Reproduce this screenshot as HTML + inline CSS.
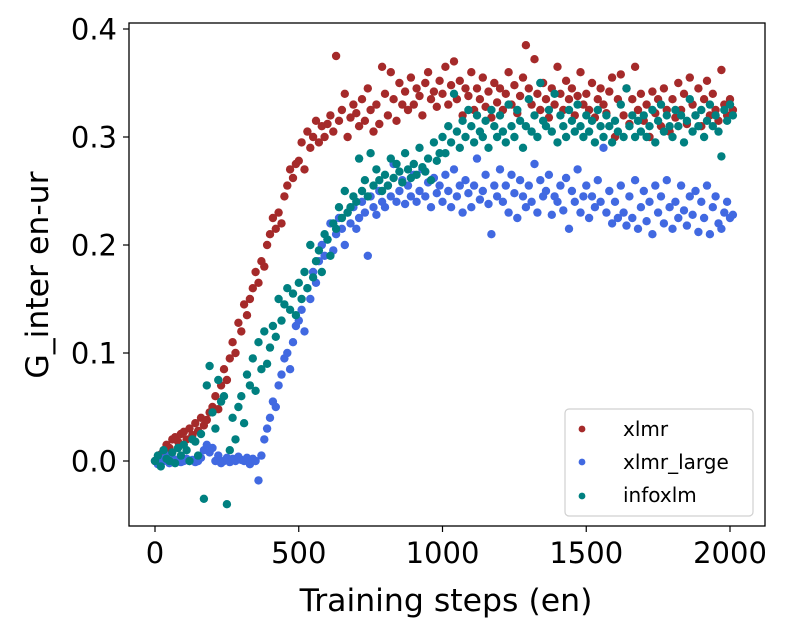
<!DOCTYPE html>
<html><head><meta charset="utf-8"><style>
html,body{margin:0;padding:0;background:#fff;}
svg{display:block;font-family:"DejaVu Sans","Liberation Sans",sans-serif;}
</style></head><body>
<svg id="chart" width="789" height="635" viewBox="0 0 789 635" xmlns="http://www.w3.org/2000/svg">
<rect x="0" y="0" width="789" height="635" fill="#fff"/>
<g id="points"></g>
<g id="axes"></g>
<text x="446" y="611" font-size="31.5" text-anchor="middle" fill="#000">Training steps (en)</text>
<text transform="translate(48,275) rotate(-90)" font-size="31.5" text-anchor="middle" fill="#000">G_inter en-ur</text>
<g>
<rect x="565" y="409" width="188" height="107" rx="4" fill="#fff" fill-opacity="0.8" stroke="#d0d0d0" stroke-width="1.2"/>
<circle cx="582" cy="429" r="3.4" fill="#a52a2a"/>
<text x="623" y="436" font-size="20">xlmr</text>
<circle cx="582" cy="462" r="3.4" fill="#4169e1"/>
<text x="623" y="469" font-size="20">xlmr_large</text>
<circle cx="582" cy="496" r="3.4" fill="#008080"/>
<text x="623" y="502" font-size="20">infoxlm</text>
</g>
</svg>
<script>
const stepSize = 10;
const xTicks = [0, 500, 1000, 1500, 2000];
const yTicks = [0.0, 0.1, 0.2, 0.3, 0.4];
const seriesNames = ["xlmr", "xlmr_large", "infoxlm"];
const xlmrValues = [
0.000,0.003,0.006,0.010,0.015,0.012,0.020,0.022,0.018,0.025,
0.027,0.020,0.030,0.024,0.035,0.028,0.040,0.033,0.038,0.045,
0.050,0.060,0.048,0.070,0.085,0.075,0.095,0.110,0.100,0.128,
0.120,0.145,0.135,0.150,0.160,0.175,0.165,0.185,0.180,0.200,
0.210,0.225,0.215,0.230,0.220,0.245,0.255,0.270,0.262,0.275,
0.278,0.295,0.270,0.305,0.290,0.300,0.315,0.295,0.310,0.300,
0.312,0.320,0.305,0.375,0.315,0.325,0.340,0.300,0.318,0.330,
0.322,0.310,0.335,0.315,0.345,0.325,0.305,0.330,0.312,0.365,
0.340,0.320,0.360,0.335,0.315,0.350,0.330,0.342,0.325,0.355,
0.330,0.345,0.338,0.320,0.350,0.360,0.335,0.342,0.328,0.352,
0.340,0.365,0.330,0.348,0.370,0.335,0.352,0.320,0.345,0.338,
0.360,0.325,0.345,0.335,0.355,0.328,0.342,0.318,0.350,0.332,
0.345,0.325,0.340,0.360,0.330,0.348,0.322,0.338,0.355,0.385,
0.345,0.330,0.372,0.340,0.325,0.350,0.335,0.318,0.345,0.330,
0.365,0.340,0.325,0.352,0.335,0.345,0.320,0.338,0.360,0.330,
0.340,0.325,0.350,0.318,0.335,0.345,0.330,0.322,0.342,0.355,
0.300,0.335,0.358,0.320,0.345,0.312,0.335,0.365,0.325,0.340,
0.315,0.330,0.300,0.342,0.322,0.335,0.310,0.345,0.325,0.305,
0.335,0.318,0.350,0.325,0.340,0.312,0.355,0.330,0.320,0.345,
0.310,0.335,0.352,0.320,0.340,0.325,0.315,0.362,0.330,0.320,
0.335,0.325];
const xlmrLargeValues = [
0.000,-0.003,0.002,0.000,0.005,-0.002,0.003,0.000,0.001,-0.001,
0.000,0.002,0.000,0.001,-0.001,0.000,0.003,0.010,0.015,0.008,
0.012,0.000,0.005,-0.002,0.000,0.003,-0.001,0.002,0.000,0.004,
0.001,0.000,0.003,-0.003,0.002,0.000,-0.018,0.005,0.020,0.030,
0.040,0.055,0.050,0.070,0.080,0.095,0.100,0.085,0.110,0.125,
0.130,0.140,0.120,0.160,0.150,0.175,0.165,0.185,0.200,0.190,
0.205,0.220,0.195,0.210,0.225,0.215,0.200,0.230,0.220,0.235,
0.215,0.225,0.240,0.230,0.190,0.245,0.235,0.228,0.250,0.240,
0.235,0.255,0.245,0.275,0.240,0.250,0.260,0.238,0.255,0.245,
0.265,0.240,0.250,0.270,0.245,0.258,0.235,0.262,0.248,0.255,
0.240,0.265,0.250,0.235,0.270,0.245,0.255,0.230,0.260,0.248,
0.235,0.255,0.280,0.242,0.250,0.265,0.238,0.210,0.255,0.245,
0.270,0.240,0.255,0.230,0.265,0.248,0.225,0.260,0.245,0.235,
0.255,0.240,0.275,0.230,0.260,0.245,0.250,0.265,0.228,0.245,
0.240,0.255,0.232,0.262,0.215,0.250,0.240,0.270,0.230,0.245,
0.255,0.225,0.245,0.235,0.260,0.240,0.290,0.230,0.250,0.220,
0.240,0.225,0.255,0.230,0.218,0.245,0.225,0.260,0.215,0.235,
0.250,0.222,0.240,0.210,0.255,0.230,0.245,0.220,0.260,0.235,
0.215,0.240,0.225,0.255,0.232,0.218,0.245,0.228,0.250,0.212,
0.240,0.225,0.255,0.210,0.235,0.245,0.220,0.215,0.230,0.240,
0.225,0.228];
const infoxlmValues = [
0.000,0.005,-0.005,0.010,0.002,0.000,0.008,-0.002,0.012,0.005,
0.015,0.010,0.000,0.020,0.018,0.005,0.025,-0.035,0.070,0.088,
0.045,0.030,0.075,0.055,0.060,-0.040,0.010,0.040,0.020,0.050,
0.060,0.035,0.080,0.070,0.095,0.065,0.110,0.085,0.120,0.090,
0.105,0.125,0.115,0.150,0.130,0.145,0.160,0.140,0.155,0.135,
0.165,0.150,0.175,0.160,0.200,0.170,0.185,0.195,0.175,0.210,
0.205,0.190,0.220,0.215,0.235,0.225,0.250,0.230,0.235,0.245,
0.240,0.280,0.250,0.260,0.245,0.285,0.255,0.270,0.260,0.250,
0.265,0.255,0.280,0.262,0.275,0.268,0.258,0.285,0.270,0.262,
0.275,0.265,0.290,0.272,0.268,0.280,0.260,0.295,0.278,0.285,
0.300,0.285,0.310,0.295,0.340,0.305,0.290,0.315,0.300,0.325,
0.310,0.295,0.320,0.305,0.300,0.315,0.290,0.325,0.310,0.300,
0.320,0.305,0.295,0.330,0.310,0.300,0.325,0.315,0.290,0.310,
0.335,0.305,0.320,0.300,0.350,0.315,0.310,0.325,0.305,0.340,
0.295,0.320,0.310,0.300,0.325,0.315,0.305,0.330,0.310,0.300,
0.320,0.305,0.315,0.295,0.325,0.310,0.300,0.320,0.310,0.295,
0.315,0.305,0.330,0.300,0.345,0.310,0.320,0.300,0.315,0.305,
0.320,0.300,0.310,0.325,0.295,0.315,0.330,0.305,0.320,0.310,
0.300,0.325,0.310,0.320,0.295,0.315,0.335,0.305,0.320,0.310,
0.325,0.300,0.315,0.330,0.310,0.320,0.305,0.282,0.325,0.315,
0.330,0.320];

const NS = "http://www.w3.org/2000/svg";
const plot = {left:129, right:765, top:23, bottom:526};
function xScale(v){ return 155 + v * (575/2000); }
function yScale(v){ return 461 - v * (432/0.4); }

const pts = document.getElementById("points");
const all = [[xlmrValues,"#a52a2a","xlmr"],[xlmrLargeValues,"#4169e1","xlmr-large"],[infoxlmValues,"#008080","infoxlm"]];
all.forEach(([vals,color,nm])=>{
  const g = document.createElementNS(NS,"g");
  
  
  vals.forEach((v,i)=>{
    const c = document.createElementNS(NS,"circle");
    c.setAttribute("cx", xScale(i*stepSize).toFixed(1));
    c.setAttribute("cy", yScale(v).toFixed(1));
    c.setAttribute("r", "4.2");
    c.setAttribute("fill", color);
    
    
    g.appendChild(c);
  });
  pts.appendChild(g);
});

const axes = document.getElementById("axes");
const frame = document.createElementNS(NS,"rect");
frame.setAttribute("x",plot.left);frame.setAttribute("y",plot.top);
frame.setAttribute("width",plot.right-plot.left);frame.setAttribute("height",plot.bottom-plot.top);
frame.setAttribute("fill","none");frame.setAttribute("stroke","#000");frame.setAttribute("stroke-width","1.3");


axes.appendChild(frame);
xTicks.forEach(t=>{
  const x = xScale(t);
  const l = document.createElementNS(NS,"line");
  l.setAttribute("x1",x);l.setAttribute("x2",x);l.setAttribute("y1",plot.bottom);l.setAttribute("y2",plot.bottom+6);
  l.setAttribute("stroke","#000");l.setAttribute("stroke-width","1.2");
  
  
  axes.appendChild(l);
  const tx = document.createElementNS(NS,"text");
  tx.setAttribute("x",x);tx.setAttribute("y",plot.bottom+37);
  tx.setAttribute("font-size","29");tx.setAttribute("text-anchor","middle");
  tx.textContent = String(t);
  
  
  axes.appendChild(tx);
});
yTicks.forEach(t=>{
  const y = yScale(t);
  const l = document.createElementNS(NS,"line");
  l.setAttribute("x1",plot.left-6);l.setAttribute("x2",plot.left);l.setAttribute("y1",y);l.setAttribute("y2",y);
  l.setAttribute("stroke","#000");l.setAttribute("stroke-width","1.2");
  
  
  axes.appendChild(l);
  const tx = document.createElementNS(NS,"text");
  tx.setAttribute("x",plot.left-12);tx.setAttribute("y",y+10.5);
  tx.setAttribute("font-size","29");tx.setAttribute("text-anchor","end");
  tx.textContent = t.toFixed(1);
  
  
  axes.appendChild(tx);
});
</script>
</body></html>
